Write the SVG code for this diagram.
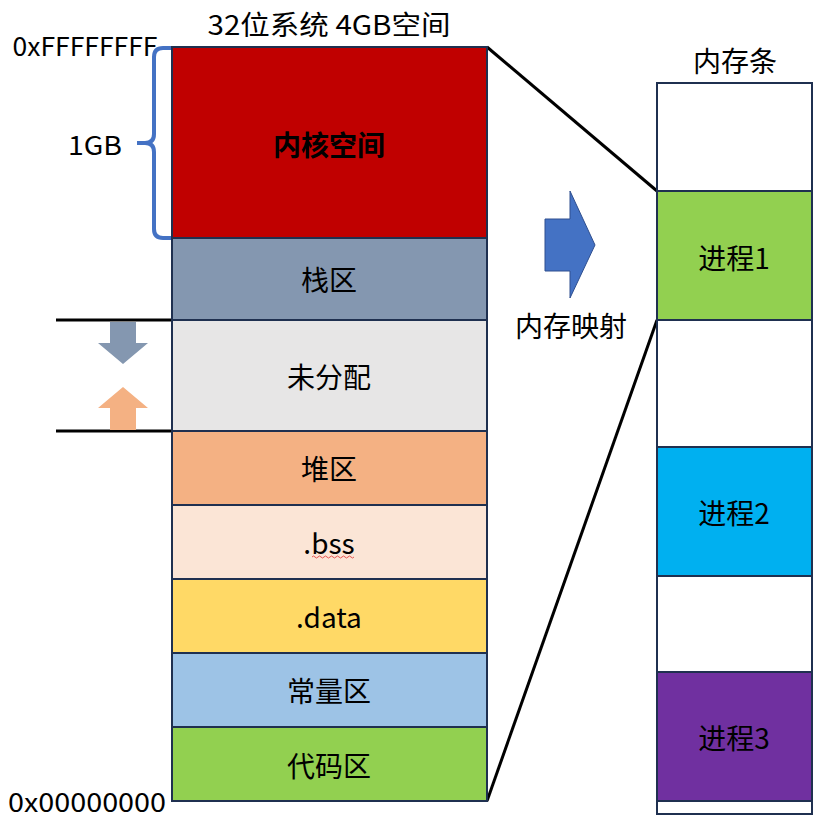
<svg xmlns="http://www.w3.org/2000/svg" width="823" height="822" viewBox="0 0 823 822">
<style>
.b{stroke:#1F3050;stroke-width:2}
.t{font-family:"Noto Sans CJK SC","Noto Sans",sans-serif;font-size:28px;fill:#000;text-anchor:middle;dominant-baseline:central}
.l{stroke:#000;stroke-width:3;fill:none}
</style>
<rect width="823" height="822" fill="#fff"/>
<text class="t" x="329" y="23" style="font-size:27px" textLength="243" lengthAdjust="spacingAndGlyphs">32位系统 4GB空间</text>
<text class="t" x="85" y="44" style="font-size:26px" textLength="145" lengthAdjust="spacingAndGlyphs">0xFFFFFFFF</text>
<text class="t" x="95" y="143" style="font-size:26px" textLength="54" lengthAdjust="spacingAndGlyphs">1GB</text>
<text class="t" x="87" y="800" style="font-size:26px" textLength="158" lengthAdjust="spacingAndGlyphs">0x00000000</text>
<text class="t" x="735" y="60">内存条</text>
<text class="t" x="571" y="325">内存映射</text>
<path d="M172,48 H163 Q154,48 154,57 V134 Q154,143 145,143 H137 H145 Q154,143 154,152 V229 Q154,238 163,238 H172" fill="none" stroke="#4472C4" stroke-width="4"/>
<g id="connectors">
<line class="l" x1="487" y1="47" x2="657" y2="191"/>
<line class="l" x1="487" y1="801" x2="657" y2="320"/>
<line x1="56" y1="320" x2="172" y2="320" stroke="#000" stroke-width="3"/>
<line x1="56" y1="431" x2="172" y2="431" stroke="#000" stroke-width="3"/>
</g>
<polygon points="110,322 136,322 136,343 148,343 123,364 98,343 110,343" fill="#8497B0"/>
<polygon points="110,430 136,430 136,408 148,408 123,387 98,408 110,408" fill="#F4B183"/>
<polygon points="545,219 570,219 570,191 595,245 570,298 570,271 545,271" fill="#4472C4" stroke="#2F4F8F" stroke-width="1"/>
<g id="kernel"><rect class="b" x="172" y="47" width="315" height="191" fill="#C00000"/><text class="t" x="329" y="144" font-weight="bold">内核空间</text></g>
<g id="stack"><rect class="b" x="172" y="238" width="315" height="82" fill="#8497B0"/><text class="t" x="329" y="279">栈区</text></g>
<g id="unalloc"><rect class="b" x="172" y="320" width="315" height="111" fill="#E7E6E6"/><text class="t" x="329" y="376">未分配</text></g>
<g id="heap"><rect class="b" x="172" y="431" width="315" height="74" fill="#F4B183"/><text class="t" x="329" y="468">堆区</text></g>
<g id="bss"><rect class="b" x="172" y="505" width="315" height="74" fill="#FBE5D6"/><text class="t" x="329" y="542">.bss</text><path d="M312,557 q1.5,-2 3,0 t3,0 t3,0 t3,0 t3,0 t3,0 t3,0 t3,0 t3,0 t3,0 t3,0 t3,0 t3,0 t3,0" fill="none" stroke="#E03030" stroke-width="0.8"/></g>
<g id="data"><rect class="b" x="172" y="579" width="315" height="74" fill="#FFD966"/><text class="t" x="329" y="616">.data</text></g>
<g id="const"><rect class="b" x="172" y="653" width="315" height="74" fill="#9DC3E6"/><text class="t" x="329" y="690">常量区</text></g>
<g id="code"><rect class="b" x="172" y="727" width="315" height="74" fill="#92D050"/><text class="t" x="329" y="765">代码区</text></g>
<g id="mem0"><rect class="b" x="657" y="83" width="155" height="108" fill="#fff"/></g>
<g id="proc1"><rect class="b" x="657" y="191" width="155" height="129" fill="#92D050"/><text class="t" x="734" y="257">进程1</text></g>
<g id="mem1"><rect class="b" x="657" y="320" width="155" height="127" fill="#fff"/></g>
<g id="proc2"><rect class="b" x="657" y="447" width="155" height="129" fill="#00B0F0"/><text class="t" x="734" y="512">进程2</text></g>
<g id="mem2"><rect class="b" x="657" y="576" width="155" height="96" fill="#fff"/></g>
<g id="proc3"><rect class="b" x="657" y="672" width="155" height="129" fill="#7030A0"/><text class="t" x="734" y="737">进程3</text></g>
<g id="mem3"><rect class="b" x="657" y="801" width="155" height="13" fill="#fff"/></g>
</svg>
